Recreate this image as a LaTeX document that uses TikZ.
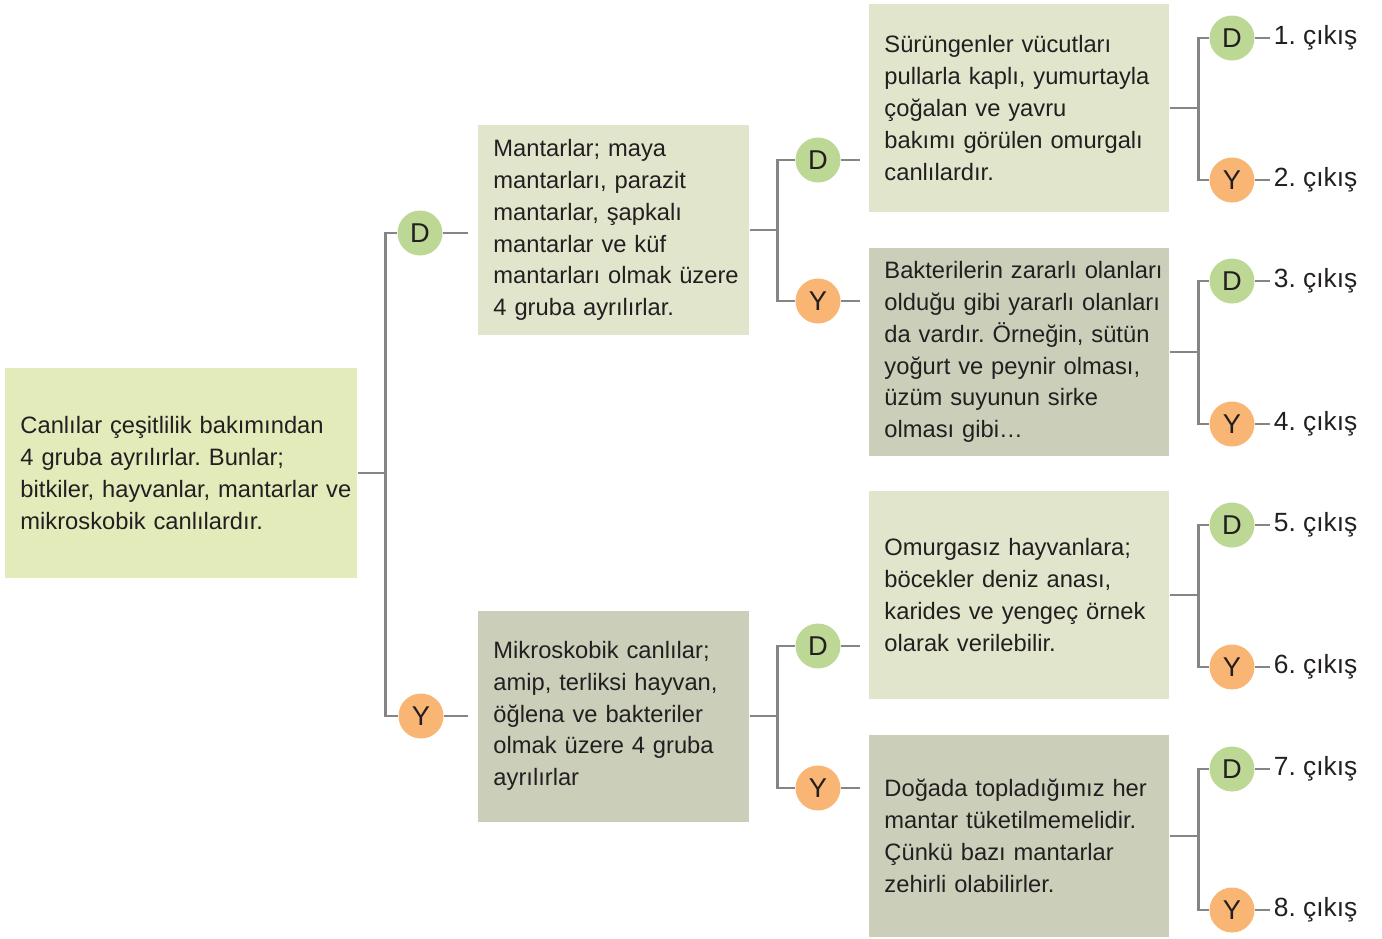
\documentclass[tikz,border=0pt]{standalone}
\usepackage{fontspec}
\setmainfont{Liberation Sans}
\usetikzlibrary{calc}
\frenchspacing
\definecolor{rootgreen}{HTML}{E3EBBB}
\definecolor{lightbox}{HTML}{E1E5CB}
\definecolor{darkbox}{HTML}{CBCFBA}
\definecolor{dgreen}{HTML}{BDD795}
\definecolor{yorange}{HTML}{F9B574}
\definecolor{linegray}{HTML}{858585}
\definecolor{textdark}{HTML}{231F20}

\tikzset{
    infobox/.style={anchor=west, inner xsep=0pt, inner ysep=0pt, align=left,
        text width=#1, text=textdark, font=\fontsize{13.5}{18.1}\selectfont,
        execute at begin node={\leftskip=8.6pt\relax}},
    dcircle/.style={circle, fill=dgreen, minimum size=0.9cm, inner sep=0pt,
        text=textdark, font=\fontsize{15.5}{17}\selectfont},
    ycircle/.style={dcircle, fill=yorange},
    outlabel/.style={anchor=west, inner xsep=2pt, text=textdark,
        font=\fontsize{15}{17}\selectfont},
    conn/.style={draw=linegray, line width=1.4pt},
}

\begin{document}
\begin{tikzpicture}[x=0.02cm, y=-0.02cm]
\useasboundingbox (0,0) rectangle (1382,938);

% Main boxes
\node[infobox=7.04cm, minimum height=4.22cm, fill=rootgreen] (root) at (5,473)
    {Canlılar çeşitlilik bakımından\\4 gruba ayrılırlar. Bunlar;\\bitkiler, hayvanlar, mantarlar ve\\mikroskobik canlılardır.};
\node[infobox=5.42cm, minimum height=4.22cm, fill=lightbox] (mantar) at (478,230)
    {Mantarlar; maya\\mantarları, parazit\\mantarlar, şapkalı\\mantarlar ve küf\\mantarları olmak üzere\\4 gruba ayrılırlar.};
\node[infobox=5.42cm, minimum height=4.22cm, fill=darkbox] (mikro) at (478,716)
    {Mikroskobik canlılar;\\amip, terliksi hayvan,\\öğlena ve bakteriler\\olmak üzere 4 gruba\\ayrılırlar};

% Right column boxes
\node[infobox=6cm, minimum height=4.16cm, fill=lightbox] (surun) at (869,108)
    {Sürüngenler vücutları\\pullarla kaplı, yumurtayla\\çoğalan ve yavru\\bakımı görülen omurgalı\\canlılardır.};
\node[infobox=6cm, minimum height=4.16cm, fill=darkbox] (bakteri) at (869,352)
    {Bakterilerin zararlı olanları\\olduğu gibi yararlı olanları\\da vardır. Örneğin, sütün\\yoğurt ve peynir olması,\\üzüm suyunun sirke\\olması gibi…};
\node[infobox=6cm, minimum height=4.16cm, fill=lightbox] (omurga) at (869,595)
    {Omurgasız hayvanlara;\\böcekler deniz anası,\\karides ve yengeç örnek\\olarak verilebilir.};
\node[infobox=6cm, minimum height=4.04cm, fill=darkbox] (doga) at (869,836)
    {Doğada topladığımız her\\mantar tüketilmemelidir.\\Çünkü bazı mantarlar\\zehirli olabilirler.};

% First level answers
\node[dcircle] (d1) at (420,233) {D};
\node[ycircle] (y1) at (421,716) {Y};
\draw[conn] (root.east) -- ++(28,0) coordinate (k1);
\draw[conn] (k1) |- (d1.west);
\draw[conn] (k1) |- (y1.west);
\draw[conn, shorten >=5.5pt] (d1.east) -- (d1.east -| mantar.west);
\draw[conn, shorten >=5.5pt] (y1.east) -- (y1.east -| mikro.west);

% Second level answers
\node[dcircle] (d2) at (818,160) {D};
\node[ycircle] (y2) at (818,301) {Y};
\node[dcircle] (d3) at (818,646) {D};
\node[ycircle] (y3) at (818,788) {Y};
\draw[conn] (mantar.east) -- ++(28,0) coordinate (k2);
\draw[conn] (k2) |- (d2.west);
\draw[conn] (k2) |- (y2.west);
\draw[conn] (mikro.east) -- ++(28,0) coordinate (k3);
\draw[conn] (k3) |- (d3.west);
\draw[conn] (k3) |- (y3.west);
\draw[conn, shorten >=5pt] (d2.east) -- (d2.east -| surun.west);
\draw[conn, shorten >=5pt] (y2.east) -- (y2.east -| bakteri.west);
\draw[conn, shorten >=5pt] (d3.east) -- (d3.east -| omurga.west);
\draw[conn, shorten >=5pt] (y3.east) -- (y3.east -| doga.west);

% Third level answers and exits
\node[dcircle] (c1) at (1232,38) {D};
\node[ycircle] (c2) at (1232,180) {Y};
\node[dcircle] (c3) at (1232,281) {D};
\node[ycircle] (c4) at (1232,424) {Y};
\node[dcircle] (c5) at (1232,525) {D};
\node[ycircle] (c6) at (1232,667) {Y};
\node[dcircle] (c7) at (1232,769) {D};
\node[ycircle] (c8) at (1232,910) {Y};

\node[outlabel] (o1) at (1270,38) {1. çıkış};
\node[outlabel] (o2) at (1270,180) {2. çıkış};
\node[outlabel] (o3) at (1270,281) {3. çıkış};
\node[outlabel] (o4) at (1270,424) {4. çıkış};
\node[outlabel] (o5) at (1270,525) {5. çıkış};
\node[outlabel] (o6) at (1270,667) {6. çıkış};
\node[outlabel] (o7) at (1270,769) {7. çıkış};
\node[outlabel] (o8) at (1270,910) {8. çıkış};

\draw[conn] (surun.east) -- ++(29,0) coordinate (k4);
\draw[conn] (k4) |- (c1.west);
\draw[conn] (k4) |- (c2.west);
\draw[conn] (bakteri.east) -- ++(29,0) coordinate (k5);
\draw[conn] (k5) |- (c3.west);
\draw[conn] (k5) |- (c4.west);
\draw[conn] (omurga.east) -- ++(29,0) coordinate (k6);
\draw[conn] (k6) |- (c5.west);
\draw[conn] (k6) |- (c6.west);
\draw[conn] (doga.east) -- ++(29,0) coordinate (k7);
\draw[conn] (k7) |- (c7.west);
\draw[conn] (k7) |- (c8.west);

\draw[conn] (c1.east) -- (o1.west);
\draw[conn] (c2.east) -- (o2.west);
\draw[conn] (c3.east) -- (o3.west);
\draw[conn] (c4.east) -- (o4.west);
\draw[conn] (c5.east) -- (o5.west);
\draw[conn] (c6.east) -- (o6.west);
\draw[conn] (c7.east) -- (o7.west);
\draw[conn] (c8.east) -- (o8.west);

\end{tikzpicture}
\end{document}
